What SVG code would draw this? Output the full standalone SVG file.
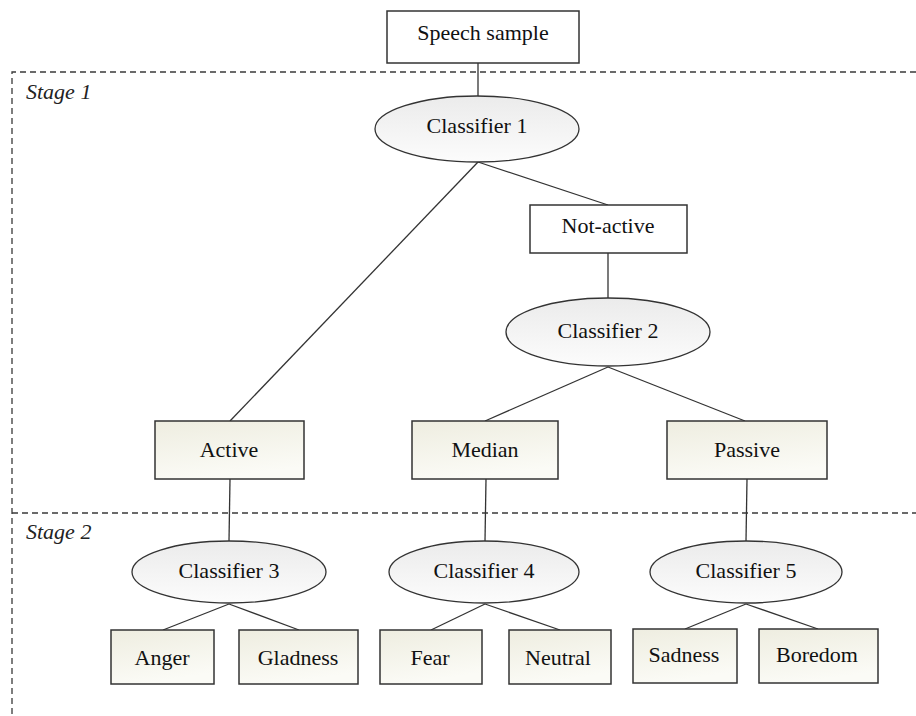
<svg xmlns="http://www.w3.org/2000/svg" width="916" height="716" viewBox="0 0 916 716">
<defs>
<linearGradient id="gBox" x1="0" y1="0" x2="0.3" y2="1">
<stop offset="0" stop-color="#eeede0"/>
<stop offset="1" stop-color="#fbfbf6"/>
</linearGradient>
<linearGradient id="gEll" x1="0" y1="0" x2="0" y2="1">
<stop offset="0" stop-color="#ebebeb"/>
<stop offset="1" stop-color="#fcfcfc"/>
</linearGradient>
<style>
.t{font-family:"Liberation Serif","Times New Roman",serif;font-size:22px;fill:#111;text-anchor:middle}
.st{font-family:"Liberation Serif","Times New Roman",serif;font-size:22px;font-style:italic;fill:#222}
.w{fill:#fff;stroke:#333;stroke-width:1.5}
.b{fill:url(#gBox);stroke:#333;stroke-width:1.5}
.e{fill:url(#gEll);stroke:#333;stroke-width:1.3}
.c line{stroke:#333;stroke-width:1.3}
.d{fill:none;stroke:#3a3a3a;stroke-width:1.3;stroke-dasharray:6 4}
</style>
</defs>
<rect width="916" height="716" fill="#fff"/>
<g id="stages">
<path class="d" d="M916,72 H12 V716"/>
<path class="d" d="M12,513 H916"/>
<text class="st" x="26" y="99">Stage 1</text>
<text class="st" x="26" y="539">Stage 2</text>
</g>
<g class="c" id="connectors">
<line x1="478" y1="63" x2="478" y2="96"/>
<line x1="478" y1="162" x2="230" y2="421"/>
<line x1="478" y1="162" x2="608" y2="205"/>
<line x1="608" y1="253" x2="608" y2="298"/>
<line x1="608" y1="367" x2="485" y2="421"/>
<line x1="608" y1="367" x2="745" y2="421"/>
<line x1="230" y1="479" x2="229" y2="541"/>
<line x1="486" y1="479" x2="485" y2="541"/>
<line x1="747" y1="479" x2="746" y2="541"/>
<line x1="229" y1="604" x2="163" y2="630"/>
<line x1="229" y1="604" x2="299" y2="630"/>
<line x1="485" y1="604" x2="431" y2="630"/>
<line x1="485" y1="604" x2="560" y2="630"/>
<line x1="746" y1="604" x2="685" y2="629"/>
<line x1="746" y1="604" x2="818" y2="629"/>
</g>
<g id="speech"><rect class="w" x="387" y="11" width="192" height="52"/><text class="t" x="483" y="40">Speech sample</text></g>
<g id="classifier1"><ellipse class="e" cx="477" cy="129" rx="102" ry="33"/><text class="t" x="477" y="133">Classifier 1</text></g>
<g id="notactive"><rect class="w" x="530" y="205" width="157" height="48"/><text class="t" x="608" y="233">Not-active</text></g>
<g id="classifier2"><ellipse class="e" cx="608" cy="332" rx="102" ry="34"/><text class="t" x="608" y="338">Classifier 2</text></g>
<g id="active"><rect class="b" x="155" y="421" width="149" height="58"/><text class="t" x="229" y="457">Active</text></g>
<g id="median"><rect class="b" x="412" y="421" width="146" height="58"/><text class="t" x="485" y="457">Median</text></g>
<g id="passive"><rect class="b" x="667" y="421" width="160" height="58"/><text class="t" x="747" y="457">Passive</text></g>
<g id="classifier3"><ellipse class="e" cx="229" cy="572" rx="97" ry="31"/><text class="t" x="229" y="578">Classifier 3</text></g>
<g id="classifier4"><ellipse class="e" cx="484" cy="572" rx="95" ry="31"/><text class="t" x="484" y="578">Classifier 4</text></g>
<g id="classifier5"><ellipse class="e" cx="746" cy="572" rx="96" ry="31"/><text class="t" x="746" y="578">Classifier 5</text></g>
<g id="anger"><rect class="b" x="111" y="630" width="103" height="54"/><text class="t" x="162" y="665">Anger</text></g>
<g id="gladness"><rect class="b" x="239" y="630" width="119" height="54"/><text class="t" x="298" y="665">Gladness</text></g>
<g id="fear"><rect class="b" x="380" y="630" width="102" height="54"/><text class="t" x="430" y="665">Fear</text></g>
<g id="neutral"><rect class="b" x="509" y="630" width="102" height="54"/><text class="t" x="558" y="665">Neutral</text></g>
<g id="sadness"><rect class="b" x="633" y="629" width="104" height="54"/><text class="t" x="684" y="662">Sadness</text></g>
<g id="boredom"><rect class="b" x="759" y="629" width="119" height="54"/><text class="t" x="817" y="662">Boredom</text></g>
</svg>
